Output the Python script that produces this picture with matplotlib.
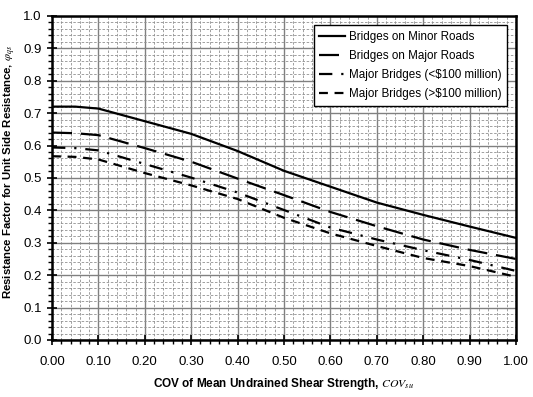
#Resistance factor vs. COV of undrained shear strength
import numpy as np
import matplotlib
matplotlib.use("Agg")
import matplotlib.pyplot as plt
from matplotlib.ticker import MultipleLocator, FormatStrFormatter

plt.rcParams['font.family'] = ['Liberation Sans', 'DejaVu Sans']
plt.rcParams['mathtext.fontset'] = 'stix'

#Values
cov = [0.0, 0.05, 0.1, 0.2, 0.3, 0.4, 0.5, 0.6, 0.7, 0.8, 0.9, 1.0]
minor_roads = [0.720, 0.720, 0.714, 0.675, 0.636, 0.583, 0.522, 0.473, 0.424, 0.386, 0.350, 0.315]
major_roads = [0.640, 0.638, 0.632, 0.592, 0.550, 0.498, 0.447, 0.395, 0.351, 0.310, 0.278, 0.250]
major_lt100 = [0.594, 0.592, 0.585, 0.543, 0.501, 0.455, 0.401, 0.347, 0.310, 0.277, 0.247, 0.213]
major_gt100 = [0.567, 0.565, 0.557, 0.515, 0.477, 0.435, 0.377, 0.329, 0.290, 0.253, 0.228, 0.195]
labels = ["Bridges on Minor Roads", "Bridges on Major Roads",
          "Major Bridges (<\\$100 million)", "Major Bridges (>\\$100 million)"]

fig = plt.figure(figsize=(5.33, 3.97), dpi=100)
ax = fig.add_axes([0.0976, 0.1436, 0.8705, 0.8164])

lw = 1.6
ax.plot(cov, minor_roads, color="black", lw=lw, label=labels[0])
ax.plot(cov, major_roads, color="black", lw=lw, dashes=(9, 4), label=labels[1])
ax.plot(cov, major_lt100, color="black", lw=lw, dashes=(6, 4, 1, 4), label=labels[2])
ax.plot(cov, major_gt100, color="black", lw=lw, dashes=(4, 3), label=labels[3])

ax.set_xlim(0, 1)
ax.set_ylim(0, 1)
ax.xaxis.set_major_locator(MultipleLocator(0.1))
ax.xaxis.set_minor_locator(MultipleLocator(0.02))
ax.yaxis.set_major_locator(MultipleLocator(0.1))
ax.yaxis.set_minor_locator(MultipleLocator(0.02))
ax.xaxis.set_major_formatter(FormatStrFormatter("%.2f"))
ax.yaxis.set_major_formatter(FormatStrFormatter("%.1f"))

ax.grid(which="major", color="#808080", lw=1.0, ls="-")
ax.grid(which="minor", color="#909090", lw=0.6, ls=(0, (3, 2)))
ax.set_axisbelow(True)
for s in ax.spines.values():
    s.set_linewidth(1.8)
    s.set_color("black")
ax.tick_params(which="major", direction="inout", length=7, width=1.2, labelsize=9.5, pad=4)
ax.tick_params(which="minor", direction="out", length=3, width=1.0)
ax.tick_params(axis="x", pad=8)

ax.set_xlabel(r"COV of Mean Undrained Shear Strength, $COV_{su}$", fontsize=8.5,
              fontweight="bold", labelpad=6)
ax.set_ylabel(r"Resistance Factor for Unit Side Resistance, $\varphi_{qs}$", fontsize=8.2,
              fontweight="bold")
ax.yaxis.set_label_coords(-0.074, 0.52)

leg = ax.legend(loc="upper right", fontsize=8.4, frameon=True, fancybox=False,
                edgecolor="black", framealpha=1, handlelength=2.2, borderpad=0.5,
                labelspacing=0.6, handletextpad=0.3, bbox_to_anchor=(0.993, 0.99))
leg.get_frame().set_linewidth(1.0)

fig.savefig("out.png", dpi=100)
